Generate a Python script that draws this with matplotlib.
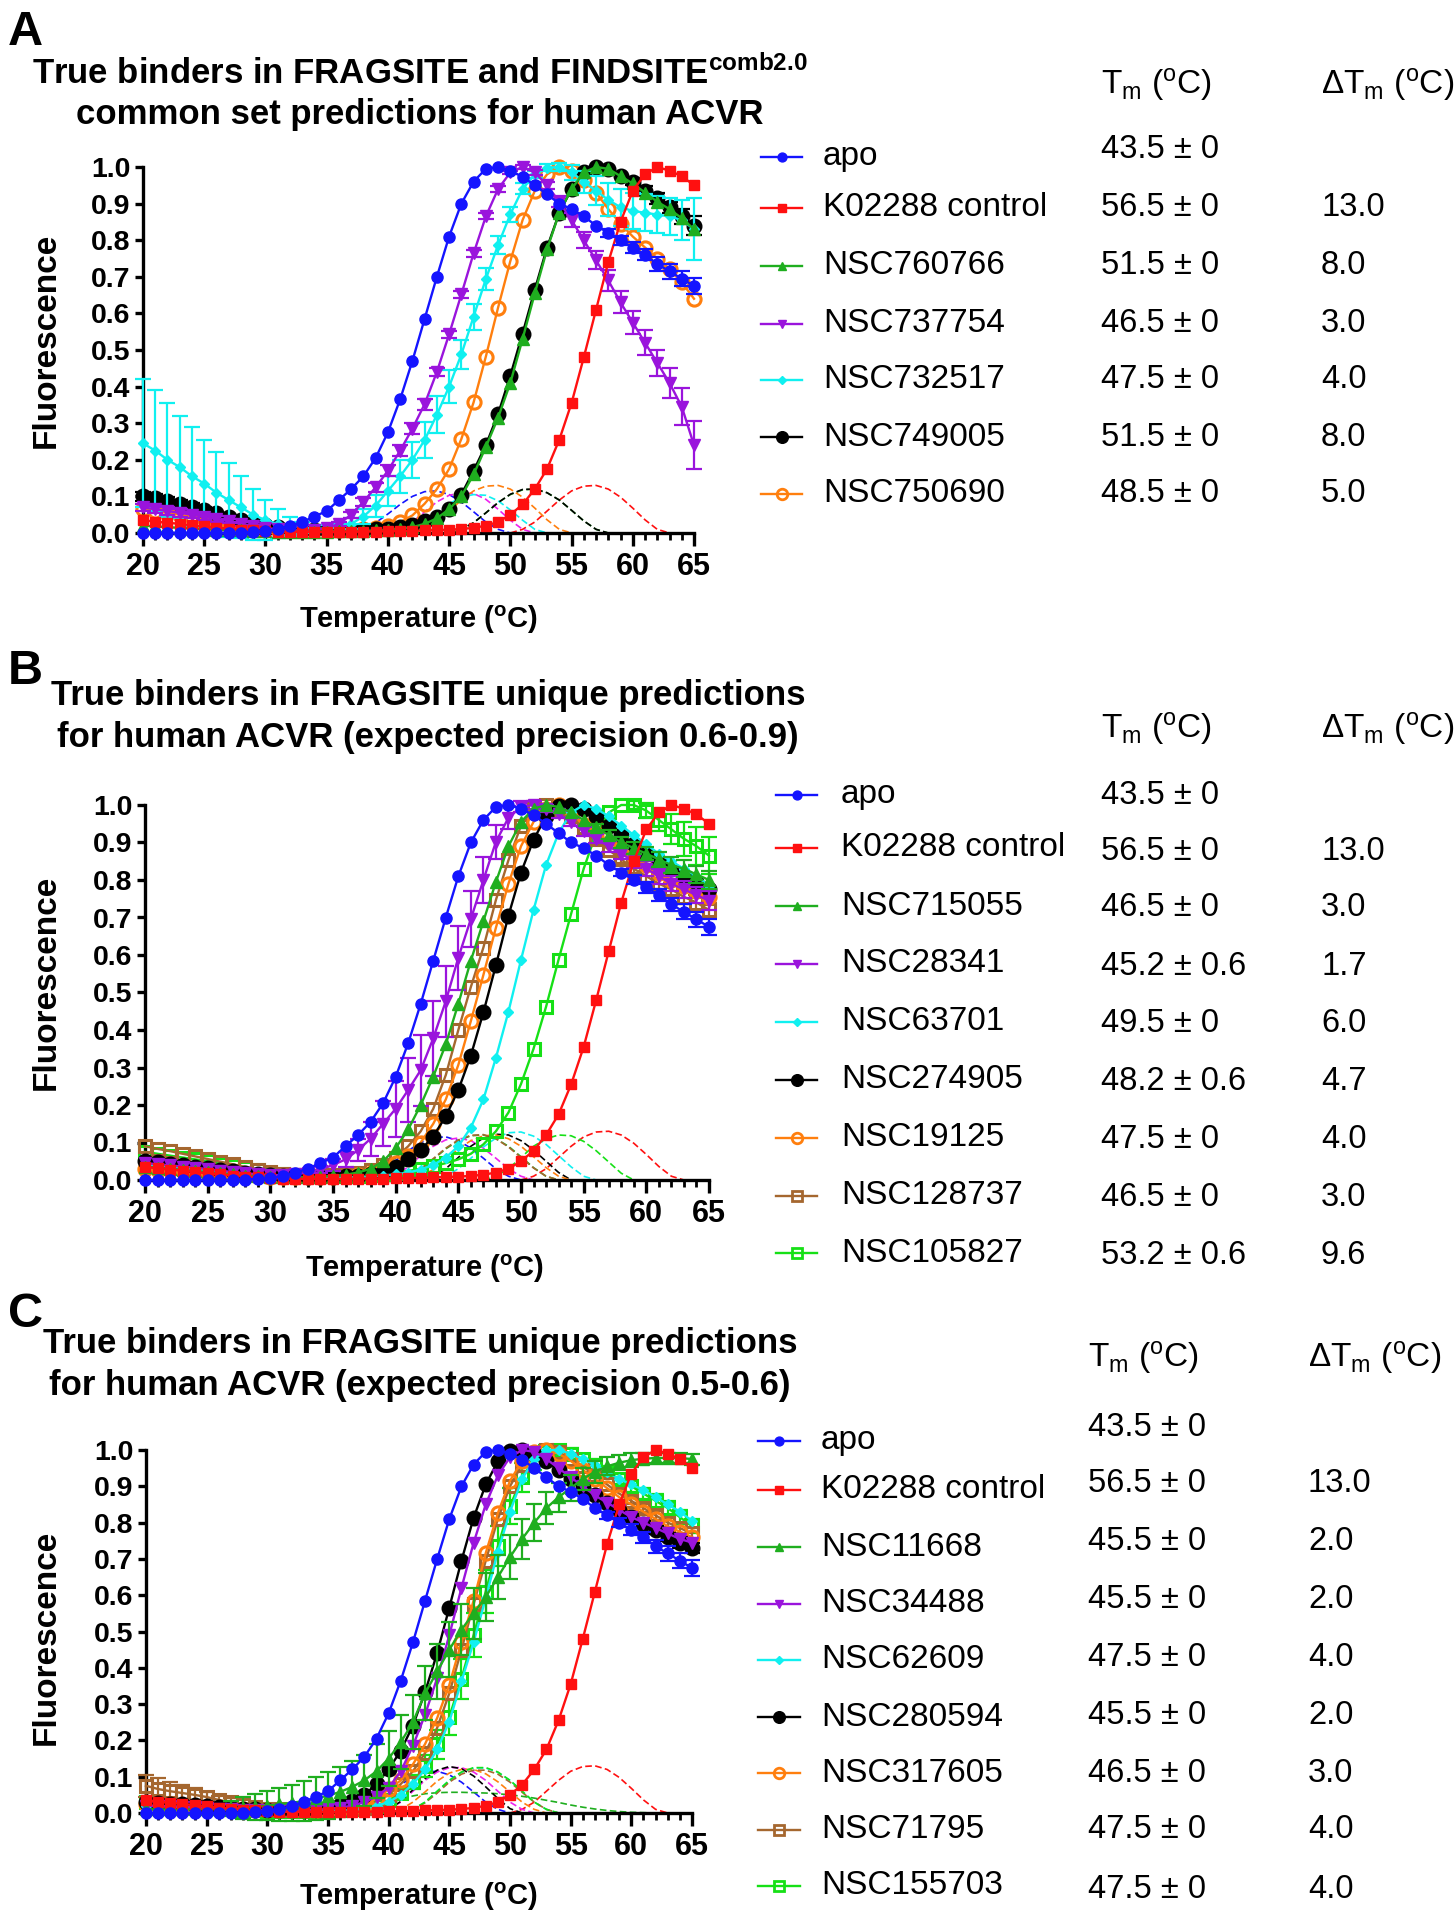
import numpy as np
import matplotlib
matplotlib.use('Agg')
import matplotlib.pyplot as plt
from matplotlib.lines import Line2D
from matplotlib.ticker import MultipleLocator, FormatStrFormatter

plt.rcParams['font.family'] = ['Liberation Sans', 'DejaVu Sans']
plt.rcParams['mathtext.fontset'] = 'custom'
plt.rcParams['mathtext.rm'] = 'Liberation Sans'
plt.rcParams['mathtext.bf'] = 'Liberation Sans:bold'
plt.rcParams['mathtext.it'] = 'Liberation Sans:italic'

# ----------------------------
# data (temperature 20..65 C, normalised fluorescence)
# ----------------------------
temps = list(range(20, 66))

apo = [0, 0, 0, 0, 0, 0, 0, 0, 0.001, 0.003,
       0.005, 0.01, 0.02, 0.03, 0.045, 0.06, 0.09, 0.12, 0.155, 0.205,
       0.275, 0.365, 0.47, 0.585, 0.70, 0.81, 0.90, 0.96, 0.995, 1.0,
       0.99, 0.973, 0.95, 0.925, 0.90, 0.885, 0.865, 0.84, 0.82, 0.80,
       0.78, 0.76, 0.735, 0.715, 0.695, 0.675]
apo_err = [0] * 38 + [0.01, 0.012, 0.015, 0.015, 0.018, 0.02, 0.02, 0.022]

k02288 = [0.035, 0.031, 0.028, 0.025, 0.021, 0.018, 0.015, 0.012, 0.009, 0.007,
          0.005, 0.004, 0.003, 0.003, 0.003, 0.003, 0.003, 0.003, 0.004, 0.004,
          0.005, 0.005, 0.006, 0.007, 0.008, 0.009, 0.011, 0.014, 0.02, 0.03,
          0.05, 0.078, 0.12, 0.175, 0.255, 0.355, 0.48, 0.61, 0.74, 0.85,
          0.935, 0.98, 1.0, 0.99, 0.975, 0.95]

# panel A
a_760766 = [0.02, 0.018, 0.016, 0.014, 0.012, 0.01, 0.009, 0.008, 0.007, 0.006,
            0.005, 0.004, 0.004, 0.004, 0.004, 0.004, 0.005, 0.005, 0.006, 0.007,
            0.009, 0.012, 0.016, 0.025, 0.04, 0.065, 0.10, 0.16, 0.235, 0.315,
            0.41, 0.53, 0.655, 0.775, 0.875, 0.94, 0.985, 1.0, 0.995, 0.975,
            0.955, 0.93, 0.905, 0.885, 0.86, 0.83]
a_737754 = [0.07, 0.065, 0.06, 0.055, 0.05, 0.044, 0.038, 0.032, 0.025, 0.019,
            0.014, 0.01, 0.008, 0.007, 0.008, 0.013, 0.025, 0.05, 0.085, 0.125,
            0.17, 0.225, 0.285, 0.352, 0.44, 0.543, 0.652, 0.764, 0.865, 0.94,
            0.985, 1.0, 0.985, 0.95, 0.905, 0.855, 0.80, 0.745, 0.69, 0.63,
            0.575, 0.52, 0.465, 0.41, 0.345, 0.24]
a_737754_err = [0.01, 0.01, 0.01, 0.01, 0.008, 0.008, 0.008, 0.006, 0.005, 0.004,
                0, 0, 0, 0, 0, 0, 0.005, 0.008, 0.01, 0.012,
                0.015, 0.015, 0.015, 0.015, 0.012, 0.01, 0.01, 0.01, 0.008, 0.008,
                0.005, 0.005, 0.008, 0.01, 0.015, 0.02, 0.022, 0.025, 0.028, 0.03,
                0.032, 0.035, 0.035, 0.04, 0.05, 0.065]
a_732517 = [0.245, 0.225, 0.20, 0.18, 0.155, 0.135, 0.11, 0.09, 0.07, 0.05,
            0.035, 0.025, 0.02, 0.015, 0.012, 0.012, 0.015, 0.025, 0.045, 0.075,
            0.115, 0.155, 0.20, 0.254, 0.323, 0.40, 0.488, 0.591, 0.694, 0.787,
            0.871, 0.94, 0.98, 0.998, 1.0, 0.985, 0.96, 0.935, 0.91, 0.89,
            0.88, 0.875, 0.87, 0.865, 0.855, 0.83]
a_732517_err = [0.175, 0.165, 0.155, 0.14, 0.135, 0.12, 0.11, 0.10, 0.085, 0.07,
                0.055, 0.04, 0.025, 0.015, 0.01, 0.01, 0.01, 0.015, 0.02, 0.03,
                0.04, 0.045, 0.05, 0.05, 0.05, 0.045, 0.04, 0.035, 0.03, 0.025,
                0.02, 0.015, 0.01, 0.01, 0.01, 0.02, 0.03, 0.04, 0.045, 0.05,
                0.05, 0.05, 0.05, 0.05, 0.055, 0.085]
a_749005 = [0.10, 0.095, 0.088, 0.08, 0.072, 0.063, 0.054, 0.045, 0.036, 0.028,
            0.021, 0.016, 0.012, 0.01, 0.008, 0.007, 0.007, 0.007, 0.008, 0.01,
            0.012, 0.016, 0.022, 0.032, 0.045, 0.065, 0.105, 0.17, 0.24, 0.325,
            0.43, 0.545, 0.665, 0.78, 0.875, 0.94, 0.985, 1.0, 0.995, 0.975,
            0.96, 0.935, 0.915, 0.89, 0.865, 0.84]
a_749005_err = [0.012, 0.012, 0.01, 0.01, 0.01, 0.008] + [0] * 34 + [0.01, 0.012, 0.015, 0.015, 0.02, 0.025]
a_750690 = [0.065, 0.06, 0.055, 0.05, 0.045, 0.04, 0.034, 0.028, 0.022, 0.017,
            0.013, 0.01, 0.008, 0.007, 0.007, 0.007, 0.008, 0.009, 0.011, 0.014,
            0.02, 0.03, 0.048, 0.08, 0.12, 0.175, 0.257, 0.357, 0.482, 0.616,
            0.743, 0.855, 0.935, 0.98, 1.0, 0.99, 0.965, 0.93, 0.885, 0.845,
            0.81, 0.78, 0.75, 0.72, 0.685, 0.64]

# panel B
b_715055 = [0.035, 0.033, 0.03, 0.027, 0.024, 0.021, 0.018, 0.015, 0.012, 0.01,
            0.008, 0.007, 0.007, 0.008, 0.009, 0.011, 0.014, 0.02, 0.03, 0.05,
            0.085, 0.135, 0.20, 0.276, 0.362, 0.47, 0.585, 0.69, 0.795, 0.89,
            0.955, 0.99, 1.0, 0.995, 0.98, 0.96, 0.94, 0.92, 0.90, 0.885,
            0.87, 0.855, 0.84, 0.83, 0.815, 0.80]
b_715055_err = [0] * 36 + [0.01, 0.012, 0.015, 0.015, 0.018, 0.02, 0.02, 0.022, 0.022, 0.025]
b_28341 = [0.045, 0.042, 0.039, 0.036, 0.033, 0.029, 0.025, 0.021, 0.018, 0.015,
           0.013, 0.013, 0.015, 0.02, 0.028, 0.04, 0.055, 0.08, 0.11, 0.15,
           0.19, 0.24, 0.293, 0.378, 0.477, 0.593, 0.696, 0.80, 0.902, 0.966,
           0.995, 1.0, 0.99, 0.975, 0.955, 0.93, 0.91, 0.89, 0.87, 0.85,
           0.83, 0.81, 0.79, 0.775, 0.76, 0.745]
b_28341_err = [0] * 14 + [0.01, 0.015, 0.02, 0.03, 0.045, 0.06,
                          0.075, 0.085, 0.095, 0.10, 0.095, 0.085, 0.075, 0.06, 0.045, 0.03,
                          0.015, 0.01, 0.01, 0.01, 0.01, 0.012, 0.012, 0.015, 0.015, 0.018,
                          0.02, 0.02, 0.02, 0.022, 0.022, 0.025]
b_63701 = [0.04, 0.038, 0.035, 0.032, 0.028, 0.025, 0.021, 0.018, 0.014, 0.011,
           0.009, 0.007, 0.006, 0.006, 0.006, 0.006, 0.007, 0.008, 0.01, 0.012,
           0.015, 0.02, 0.028, 0.04, 0.06, 0.09, 0.14, 0.215, 0.326, 0.449,
           0.587, 0.72, 0.84, 0.925, 0.98, 1.0, 0.99, 0.97, 0.945, 0.92,
           0.895, 0.87, 0.85, 0.83, 0.81, 0.785]
b_274905 = [0.05, 0.047, 0.043, 0.04, 0.036, 0.032, 0.028, 0.024, 0.02, 0.016,
            0.013, 0.011, 0.01, 0.009, 0.009, 0.009, 0.01, 0.012, 0.016, 0.022,
            0.035, 0.055, 0.08, 0.116, 0.17, 0.24, 0.332, 0.447, 0.573, 0.705,
            0.82, 0.907, 0.97, 0.998, 1.0, 0.99, 0.97, 0.945, 0.92, 0.895,
            0.87, 0.85, 0.83, 0.81, 0.795, 0.775]
b_19125 = [0.03, 0.028, 0.026, 0.024, 0.022, 0.02, 0.017, 0.015, 0.013, 0.011,
           0.009, 0.008, 0.007, 0.007, 0.008, 0.009, 0.011, 0.014, 0.02, 0.03,
           0.045, 0.065, 0.10, 0.15, 0.215, 0.307, 0.424, 0.547, 0.673, 0.79,
           0.89, 0.955, 0.99, 1.0, 0.99, 0.97, 0.945, 0.92, 0.89, 0.865,
           0.84, 0.82, 0.80, 0.785, 0.77, 0.755]
b_128737 = [0.09, 0.083, 0.077, 0.07, 0.063, 0.056, 0.049, 0.042, 0.035, 0.028,
            0.022, 0.017, 0.014, 0.012, 0.012, 0.013, 0.015, 0.02, 0.027, 0.04,
            0.06, 0.09, 0.13, 0.19, 0.28, 0.40, 0.515, 0.62, 0.747, 0.853,
            0.945, 0.99, 1.0, 0.99, 0.97, 0.94, 0.91, 0.88, 0.855, 0.83,
            0.81, 0.79, 0.775, 0.755, 0.74, 0.72]
b_128737_err = [0] * 38 + [0.01, 0.012, 0.015, 0.015, 0.018, 0.02, 0.02, 0.02]
b_105827 = [0.075, 0.07, 0.065, 0.06, 0.055, 0.05, 0.044, 0.038, 0.032, 0.026,
            0.02, 0.016, 0.013, 0.011, 0.01, 0.01, 0.011, 0.012, 0.014, 0.017,
            0.02, 0.024, 0.03, 0.037, 0.045, 0.055, 0.07, 0.095, 0.13, 0.18,
            0.256, 0.35, 0.462, 0.588, 0.71, 0.83, 0.925, 0.98, 1.0, 1.0,
            0.985, 0.96, 0.935, 0.91, 0.89, 0.865]
b_105827_err = [0] * 39 + [0.01, 0.02, 0.03, 0.04, 0.045, 0.05, 0.05]

# panel C
c_11668 = [0.01, 0.01, 0.01, 0.01, 0.01, 0.01, 0.01, 0.012, 0.014, 0.017,
           0.02, 0.024, 0.028, 0.033, 0.04, 0.048, 0.058, 0.072, 0.09, 0.115,
           0.15, 0.195, 0.25, 0.33, 0.39, 0.45, 0.505, 0.55, 0.595, 0.65,
           0.705, 0.755, 0.80, 0.84, 0.87, 0.895, 0.92, 0.94, 0.955, 0.965,
           0.972, 0.976, 0.978, 0.978, 0.978, 0.975]
c_11668_err = [0, 0, 0, 0, 0, 0, 0, 0.02, 0.03, 0.035,
               0.04, 0.045, 0.05, 0.055, 0.06, 0.065, 0.07, 0.07, 0.07, 0.075,
               0.075, 0.075, 0.075, 0.075, 0.075, 0.075, 0.07, 0.07, 0.065, 0.06,
               0.06, 0.055, 0.05, 0.045, 0.04, 0.035, 0.03, 0.03, 0.025, 0.02,
               0.02, 0.015, 0.015, 0.015, 0.015, 0.015]
c_34488 = [0.02, 0.019, 0.018, 0.017, 0.016, 0.014, 0.012, 0.01, 0.009, 0.008,
           0.007, 0.007, 0.007, 0.008, 0.009, 0.011, 0.015, 0.02, 0.03, 0.045,
           0.07, 0.115, 0.185, 0.271, 0.372, 0.49, 0.62, 0.744, 0.85, 0.93,
           0.98, 1.0, 0.995, 0.975, 0.95, 0.925, 0.90, 0.875, 0.855, 0.835,
           0.815, 0.80, 0.785, 0.77, 0.755, 0.745]
c_62609 = [0.02, 0.019, 0.018, 0.016, 0.015, 0.013, 0.011, 0.009, 0.008, 0.007,
           0.006, 0.005, 0.005, 0.005, 0.006, 0.006, 0.007, 0.008, 0.012, 0.02,
           0.03, 0.05, 0.08, 0.12, 0.175, 0.252, 0.363, 0.47, 0.592, 0.72,
           0.83, 0.92, 0.975, 1.0, 1.0, 0.99, 0.975, 0.96, 0.94, 0.92,
           0.905, 0.89, 0.87, 0.85, 0.83, 0.805]
c_280594 = [0.03, 0.028, 0.026, 0.024, 0.022, 0.02, 0.017, 0.015, 0.012, 0.01,
            0.009, 0.008, 0.008, 0.009, 0.011, 0.015, 0.022, 0.032, 0.05, 0.08,
            0.12, 0.172, 0.241, 0.333, 0.441, 0.566, 0.695, 0.813, 0.905, 0.969,
            0.996, 1.0, 0.99, 0.97, 0.945, 0.92, 0.895, 0.875, 0.855, 0.835,
            0.815, 0.795, 0.78, 0.76, 0.745, 0.73]
c_280594_err = [0] * 40 + [0.01, 0.01, 0.012, 0.012, 0.015, 0.015]
c_317605 = [0.025, 0.023, 0.021, 0.019, 0.017, 0.015, 0.013, 0.011, 0.01, 0.009,
            0.008, 0.007, 0.007, 0.007, 0.008, 0.009, 0.011, 0.014, 0.02, 0.04,
            0.065, 0.09, 0.134, 0.19, 0.262, 0.353, 0.471, 0.585, 0.716, 0.826,
            0.915, 0.97, 0.995, 1.0, 0.99, 0.97, 0.945, 0.92, 0.895, 0.87,
            0.85, 0.83, 0.81, 0.79, 0.775, 0.76]
c_71795 = [0.075, 0.066, 0.06, 0.055, 0.05, 0.044, 0.036, 0.03, 0.022, 0.016,
           0.012, 0.01, 0.009, 0.009, 0.009, 0.01, 0.011, 0.013, 0.015, 0.03,
           0.05, 0.08, 0.115, 0.165, 0.235, 0.33, 0.45, 0.575, 0.695, 0.81,
           0.90, 0.96, 0.99, 1.0, 0.995, 0.975, 0.955, 0.93, 0.905, 0.88,
           0.86, 0.84, 0.82, 0.80, 0.785, 0.77]
c_71795_err = [0.03, 0.03, 0.025, 0.022, 0.02, 0.015, 0.012, 0.01] + [0] * 32 + [0.01, 0.01, 0.012, 0.012, 0.015, 0.015]
c_155703 = [0.03, 0.028, 0.025, 0.022, 0.02, 0.017, 0.014, 0.011, 0.009, 0.007,
            0.006, 0.005, 0.005, 0.005, 0.006, 0.007, 0.008, 0.01, 0.013, 0.02,
            0.035, 0.055, 0.085, 0.13, 0.19, 0.265, 0.37, 0.49, 0.61, 0.735,
            0.845, 0.925, 0.975, 0.995, 1.0, 0.99, 0.975, 0.96, 0.94, 0.92,
            0.90, 0.88, 0.86, 0.84, 0.815, 0.79]
c_155703_err = [0] * 22 + [0.02, 0.03, 0.04, 0.05, 0.055, 0.06, 0.06, 0.055,
                           0.05, 0.04, 0.03, 0.02, 0.015, 0.015, 0.015, 0.015, 0.015, 0.015,
                           0.015, 0.015, 0.02, 0.02, 0.02, 0.02]

# dashed first-derivative fits: (first temperature, values at 1 C steps)
d_apo = (37, [0.0, 0.01, 0.028, 0.052, 0.078, 0.1, 0.113, 0.115, 0.105, 0.085, 0.058, 0.03, 0.01, 0.0])
d_k02288 = (50, [0.0, 0.01, 0.03, 0.06, 0.09, 0.115, 0.128, 0.13, 0.12, 0.098, 0.068, 0.036, 0.01, 0.0])
d_a_760766 = (45, [0.0, 0.01, 0.028, 0.055, 0.083, 0.105, 0.118, 0.12, 0.11, 0.09, 0.062, 0.033, 0.01, 0.0])
d_a_737754 = (40, [0.0, 0.01, 0.03, 0.058, 0.085, 0.103, 0.11, 0.108, 0.092, 0.065, 0.035, 0.01, 0.0])
d_a_732517 = (41, [0.0, 0.01, 0.028, 0.055, 0.08, 0.098, 0.105, 0.103, 0.088, 0.063, 0.035, 0.01, 0.0])
d_a_749005 = (45, [0.0, 0.01, 0.028, 0.055, 0.083, 0.106, 0.119, 0.12, 0.11, 0.09, 0.062, 0.033, 0.01, 0.0])
d_a_750690 = (42, [0.0, 0.01, 0.03, 0.06, 0.09, 0.115, 0.128, 0.13, 0.12, 0.098, 0.068, 0.036, 0.01, 0.0])

d_b_715055 = (40, [0.0, 0.01, 0.028, 0.055, 0.083, 0.105, 0.118, 0.12, 0.11, 0.09, 0.062, 0.033, 0.01, 0.0])
d_b_28341 = (39, [0.0, 0.012, 0.035, 0.065, 0.09, 0.107, 0.112, 0.105, 0.085, 0.058, 0.03, 0.01, 0.0])
d_b_63701 = (43, [0.0, 0.01, 0.03, 0.058, 0.088, 0.112, 0.126, 0.128, 0.117, 0.095, 0.065, 0.035, 0.01, 0.0])
d_b_274905 = (42, [0.0, 0.01, 0.03, 0.06, 0.09, 0.112, 0.122, 0.12, 0.105, 0.08, 0.05, 0.02, 0.0])
d_b_19125 = (41, [0.0, 0.01, 0.028, 0.055, 0.083, 0.105, 0.118, 0.12, 0.11, 0.09, 0.062, 0.033, 0.01, 0.0])
d_b_128737 = (40, [0.0, 0.01, 0.03, 0.057, 0.085, 0.107, 0.119, 0.121, 0.11, 0.088, 0.06, 0.032, 0.01, 0.0])
d_b_105827 = (47, [0.0, 0.01, 0.03, 0.06, 0.09, 0.11, 0.12, 0.118, 0.103, 0.078, 0.048, 0.018, 0.0])

d_c_11668 = (38, [0.0, 0.01, 0.025, 0.038, 0.047, 0.053, 0.056, 0.057, 0.057, 0.056, 0.055, 0.053,
                  0.05, 0.046, 0.041, 0.035, 0.029, 0.022, 0.016, 0.011, 0.007, 0.004, 0.002, 0.001, 0.0])
d_c_34488 = (39, [0.0, 0.01, 0.03, 0.06, 0.09, 0.113, 0.125, 0.125, 0.113, 0.09, 0.06, 0.03, 0.01, 0.0])
d_c_62609 = (41, [0.0, 0.01, 0.03, 0.06, 0.09, 0.112, 0.124, 0.124, 0.112, 0.09, 0.06, 0.03, 0.01, 0.0])
d_c_280594 = (39, [0.0, 0.01, 0.032, 0.064, 0.095, 0.118, 0.128, 0.122, 0.102, 0.072, 0.04, 0.012, 0.0])
d_c_317605 = (40, [0.0, 0.01, 0.03, 0.058, 0.088, 0.11, 0.12, 0.12, 0.108, 0.086, 0.058, 0.03, 0.01, 0.0])
d_c_71795 = (41, [0.0, 0.01, 0.028, 0.055, 0.085, 0.107, 0.118, 0.118, 0.107, 0.085, 0.057, 0.03, 0.01, 0.0])
d_c_155703 = (41, [0.0, 0.01, 0.03, 0.06, 0.09, 0.113, 0.125, 0.125, 0.113, 0.09, 0.06, 0.03, 0.01, 0.0])

# legend table text
names_a = ['apo', 'K02288 control', 'NSC760766', 'NSC737754', 'NSC732517', 'NSC749005', 'NSC750690']
tm_a = ['43.5 ± 0', '56.5 ± 0', '51.5 ± 0', '46.5 ± 0', '47.5 ± 0', '51.5 ± 0', '48.5 ± 0']
dtm_a = ['', '13.0', '8.0', '3.0', '4.0', '8.0', '5.0']

names_b = ['apo', 'K02288 control', 'NSC715055', 'NSC28341', 'NSC63701', 'NSC274905',
           'NSC19125', 'NSC128737', 'NSC105827']
tm_b = ['43.5 ± 0', '56.5 ± 0', '46.5 ± 0', '45.2 ± 0.6', '49.5 ± 0', '48.2 ± 0.6',
        '47.5 ± 0', '46.5 ± 0', '53.2 ± 0.6']
dtm_b = ['', '13.0', '3.0', '1.7', '6.0', '4.7', '4.0', '3.0', '9.6']

names_c = ['apo', 'K02288 control', 'NSC11668', 'NSC34488', 'NSC62609', 'NSC280594',
           'NSC317605', 'NSC71795', 'NSC155703']
tm_c = ['43.5 ± 0', '56.5 ± 0', '45.5 ± 0', '45.5 ± 0', '47.5 ± 0', '45.5 ± 0',
        '46.5 ± 0', '47.5 ± 0', '47.5 ± 0']
dtm_c = ['', '13.0', '2.0', '2.0', '4.0', '2.0', '3.0', '4.0', '4.0']

# ----------------------------
# styles
# ----------------------------
styles = {
    'blue':   dict(color='#1414ff', dcolor='#1414ff', marker='o', ms=8.0, open=False),
    'red':    dict(color='#ff1010', dcolor='#ff1010', marker='s', ms=7.5, open=False),
    'green':  dict(color='#1fae1f', dcolor='#1fae1f', marker='^', ms=8.0, open=False),
    'purple': dict(color='#9a14dc', dcolor='#ee22ee', marker='v', ms=8.0, open=False),
    'cyan':   dict(color='#10f0f0', dcolor='#10f0f0', marker='D', ms=5.5, open=False),
    'black':  dict(color='#000000', dcolor='#000000', marker='o', ms=10.5, open=False),
    'orange': dict(color='#ff7f0e', dcolor='#ff7f0e', marker='o', ms=9.5, open=True),
    'brown':  dict(color='#a5672f', dcolor='#a5672f', marker='s', ms=9.0, open=True),
    'lime':   dict(color='#16e016', dcolor='#16e016', marker='s', ms=9.0, open=True),
}
order_a = ['blue', 'red', 'green', 'purple', 'cyan', 'black', 'orange']
order_bc = ['blue', 'red', 'green', 'purple', 'cyan', 'black', 'orange', 'brown', 'lime']

panels = [
    dict(vals=[apo, k02288, a_760766, a_737754, a_732517, a_749005, a_750690],
         errs=[apo_err, None, None, a_737754_err, a_732517_err, a_749005_err, None],
         dash=[d_apo, d_k02288, d_a_760766, d_a_737754, d_a_732517, d_a_749005, d_a_750690],
         keys=order_a, names=names_a, tm=tm_a, dtm=dtm_a,
         box=(143, 167, 694, 533), letter='A', letter_xy=(8, 45),
         title=['True binders in FRAGSITE and FINDSITE$^{\\mathbf{comb2.0}}$',
                'common set predictions for human ACVR'],
         title_xy=(420, 84, 124), xlab_xy=(419, 628), ylab_xy=(46, 340),
         leg=dict(m0=761, m1=802, lab=823, tmx=1101, dtx=1321, head=85,
                  rows=[157, 208, 266, 324, 380, 437, 494],
                  tmrows=[150, 208, 266, 324, 380, 437, 494])),
    dict(vals=[apo, k02288, b_715055, b_28341, b_63701, b_274905, b_19125, b_128737, b_105827],
         errs=[apo_err, None, b_715055_err, b_28341_err, None, None, None, b_128737_err, b_105827_err],
         dash=[d_apo, d_k02288, d_b_715055, d_b_28341, d_b_63701, d_b_274905, d_b_19125,
               d_b_128737, d_b_105827],
         keys=order_bc, names=names_b, tm=tm_b, dtm=dtm_b,
         box=(145, 805, 709, 1180), letter='B', letter_xy=(8, 684),
         title=['True binders in FRAGSITE unique predictions',
                'for human ACVR (expected precision 0.6-0.9)'],
         title_xy=(428, 705, 747), xlab_xy=(425, 1277), ylab_xy=(46, 982),
         leg=dict(m0=776, m1=817, lab=841, tmx=1101, dtx=1321, head=729,
                  rows=[795, 848, 906, 964, 1022, 1080, 1138, 1196, 1253],
                  tmrows=[795, 851, 908, 966, 1024, 1082, 1140, 1198, 1255])),
    dict(vals=[apo, k02288, c_11668, c_34488, c_62609, c_280594, c_317605, c_71795, c_155703],
         errs=[apo_err, None, c_11668_err, None, None, c_280594_err, None, c_71795_err, c_155703_err],
         dash=[d_apo, d_k02288, d_c_11668, d_c_34488, d_c_62609, d_c_280594, d_c_317605,
               d_c_71795, d_c_155703],
         keys=order_bc, names=names_c, tm=tm_c, dtm=dtm_c,
         box=(146, 1450, 692, 1813), letter='C', letter_xy=(8, 1327),
         title=['True binders in FRAGSITE unique predictions',
                'for human ACVR (expected precision 0.5-0.6)'],
         title_xy=(420, 1353, 1395), xlab_xy=(419, 1905), ylab_xy=(46, 1637),
         leg=dict(m0=758, m1=800, lab=821, tmx=1088, dtx=1308, head=1358,
                  rows=[1441, 1490, 1547, 1604, 1660, 1717, 1773, 1830, 1886],
                  tmrows=[1427, 1484, 1541, 1600, 1657, 1716, 1774, 1830, 1889])),
]

W, H = 1454, 1920
fig = plt.figure(figsize=(W / 100, H / 100), dpi=100)


def fx(px):
    return px / W


def fy(py):
    return 1 - py / H


t = np.array(temps)

for p in panels:
    x0, y0, x1, y1 = p['box']
    ax = fig.add_axes([fx(x0), fy(y1), (x1 - x0) / W, (y1 - y0) / H])
    n = len(p['keys'])

    # dashed derivative curves first (underneath)
    for k, (ts, dv) in zip(p['keys'], p['dash']):
        ax.plot(np.arange(ts, ts + len(dv)), dv, ls=(0, (4, 2)), lw=1.2,
                color=styles[k]['dcolor'], zorder=2, clip_on=False)

    # melt curves, first one drawn on top
    for i in reversed(range(n)):
        st = styles[p['keys'][i]]
        y = np.array(p['vals'][i])
        z = 10 + (n - i)
        e = p['errs'][i]
        if e is not None:
            e = np.array(e)
            m = e > 0
            ax.errorbar(t[m], y[m], yerr=e[m], fmt='none', ecolor=st['color'],
                        elinewidth=1.6, capsize=5.5, capthick=1.6, zorder=z, clip_on=False)
        ax.plot(t, y, color=st['color'], lw=1.7, marker=st['marker'], ms=st['ms'],
                mfc='none' if st['open'] else st['color'], mec=st['color'],
                mew=2.2 if st['open'] else 1.0, zorder=z, clip_on=False)

    ax.set_xlim(20, 65)
    ax.set_ylim(0, 1.0)
    for s in ['top', 'right']:
        ax.spines[s].set_visible(False)
    for s in ['left', 'bottom']:
        ax.spines[s].set_linewidth(2.4)
    ax.xaxis.set_major_locator(MultipleLocator(5))
    ax.xaxis.set_minor_locator(MultipleLocator(1))
    ax.yaxis.set_major_locator(MultipleLocator(0.1))
    ax.yaxis.set_major_formatter(FormatStrFormatter('%.1f'))
    ax.tick_params(axis='x', which='major', length=9, width=2.4, labelsize=22, pad=5)
    ax.tick_params(axis='x', which='minor', length=5, width=2.0)
    ax.tick_params(axis='y', which='major', length=6, width=2.4, labelsize=20.5, pad=3)
    for lab in ax.get_xticklabels() + ax.get_yticklabels():
        lab.set_fontweight('bold')

    # panel letter, titles, axis labels
    fig.text(fx(p['letter_xy'][0]), fy(p['letter_xy'][1]), p['letter'],
             fontsize=35, fontweight='bold', ha='left', va='baseline')
    tx, ty1, ty2 = p['title_xy']
    fig.text(fx(tx), fy(ty1), p['title'][0], fontsize=25, fontweight='bold',
             ha='center', va='baseline')
    fig.text(fx(tx), fy(ty2), p['title'][1], fontsize=25, fontweight='bold',
             ha='center', va='baseline')
    fig.text(fx(p['xlab_xy'][0]), fy(p['xlab_xy'][1]), 'Temperature ($\\mathbf{^o}$C)',
             fontsize=21, fontweight='bold', ha='center', va='baseline')
    fig.text(fx(p['ylab_xy'][0]), fy(p['ylab_xy'][1]), 'Fluorescence',
             fontsize=24, fontweight='bold', ha='center', va='center', rotation=90)

    # legend table
    lg = p['leg']
    fig.text(fx(lg['tmx']), fy(lg['head']), 'T$_\\mathrm{m}$ ($^\\mathrm{o}$C)',
             fontsize=24, ha='left', va='center')
    fig.text(fx(lg['dtx']), fy(lg['head']), 'ΔT$_\\mathrm{m}$ ($^\\mathrm{o}$C)',
             fontsize=24, ha='left', va='center')
    for i in range(n):
        st = styles[p['keys'][i]]
        ry = lg['rows'][i]
        fig.add_artist(Line2D([fx(lg['m0']), fx(lg['m1'])], [fy(ry), fy(ry)],
                              transform=fig.transFigure, color=st['color'], lw=1.7))
        fig.add_artist(Line2D([fx((lg['m0'] + lg['m1']) / 2)], [fy(ry)],
                              transform=fig.transFigure, color=st['color'],
                              marker=st['marker'], ms=st['ms'] * 0.8,
                              mfc='none' if st['open'] else st['color'], mec=st['color'],
                              mew=2.0 if st['open'] else 1.0))
        fig.text(fx(lg['lab']), fy(ry), p['names'][i], fontsize=24, ha='left', va='center')
        fig.text(fx(lg['tmx']), fy(lg['tmrows'][i]), p['tm'][i], fontsize=23.5,
                 ha='left', va='center')
        if p['dtm'][i]:
            fig.text(fx(lg['dtx']), fy(lg['tmrows'][i]), p['dtm'][i], fontsize=23.5,
                     ha='left', va='center')

fig.savefig('out.png', dpi=100)
